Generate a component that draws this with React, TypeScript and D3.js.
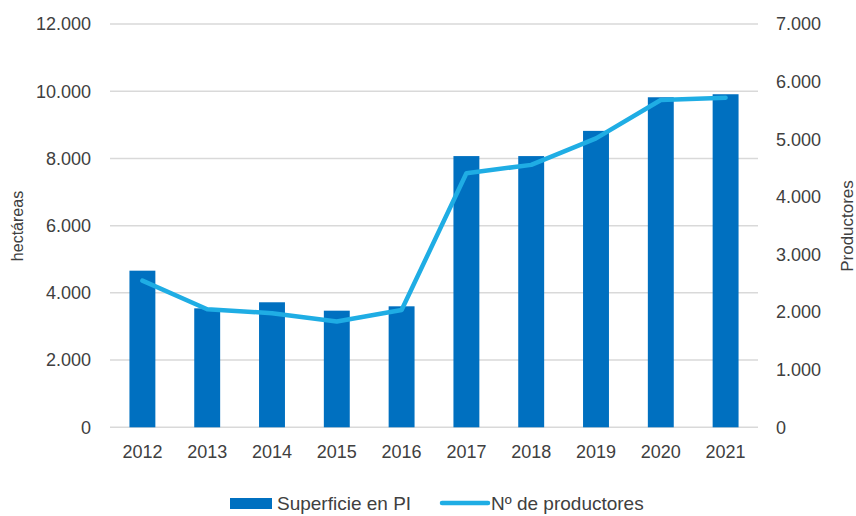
import * as d3 from "d3";

// Superficie en producción integrada (ha) y nº de productores, 2012-2021
const years = ["2012", "2013", "2014", "2015", "2016", "2017", "2018", "2019", "2020", "2021"];
const superficie = [4660, 3540, 3720, 3470, 3600, 8070, 8070, 8820, 9820, 9910];
const productores = [2545, 2050, 1980, 1835, 2035, 4410, 4555, 5015, 5680, 5720];
const leftTicks = [0, 2000, 4000, 6000, 8000, 10000, 12000];
const rightTicks = [0, 1000, 2000, 3000, 4000, 5000, 6000, 7000];

const W = 856;
const H = 516;
const plot = { left: 110, right: 758, top: 24, bottom: 427.3 };
const BAR = "#0070C0";
const LINE = "#1FADE4";
const TEXT = "#404040";
const FONT = "'Liberation Sans', Arial, sans-serif";

const esLocale = d3.formatLocale({
	decimal: ",",
	thousands: ".",
	grouping: [3],
	currency: ["", "€"],
});
const fmt = esLocale.format(",");

export default function App() {
	const x = d3
		.scaleBand<string>()
		.domain(years)
		.range([plot.left, plot.right])
		.paddingInner(0.6)
		.paddingOuter(0.3);
	const yLeft = d3.scaleLinear().domain([0, 12000]).range([plot.bottom, plot.top]);
	const yRight = d3.scaleLinear().domain([0, 7000]).range([plot.bottom, plot.top]);

	const line = d3
		.line<number>()
		.x((_, i) => (x(years[i]) as number) + x.bandwidth() / 2)
		.y((d) => yRight(d));

	return (
		<svg
			width={W}
			height={H}
			style={{ position: "absolute", left: 0, top: 0, background: "#fff" }}
			fontFamily={FONT}
		>
			{/* gridlines */}
			{leftTicks.map((t) => (
				<line
					key={"g" + t}
					x1={plot.left}
					x2={plot.right}
					y1={yLeft(t)}
					y2={yLeft(t)}
					stroke="#D9D9D9"
					strokeWidth={1.5}
				/>
			))}

			{/* bars */}
			{superficie.map((v, i) => (
				<rect
					key={"b" + years[i]}
					x={x(years[i])}
					y={yLeft(v)}
					width={x.bandwidth()}
					height={yLeft(0) - yLeft(v)}
					fill={BAR}
				/>
			))}

			{/* producers line */}
			<path
				d={line(productores) || ""}
				fill="none"
				stroke={LINE}
				strokeWidth={4.5}
				strokeLinejoin="round"
				strokeLinecap="round"
			/>

			{/* left axis labels */}
			{leftTicks.map((t) => (
				<text
					key={"l" + t}
					x={91}
					y={yLeft(t)}
					dy="0.35em"
					textAnchor="end"
					fontSize={18}
					fill={TEXT}
				>
					{fmt(t)}
				</text>
			))}

			{/* right axis labels */}
			{rightTicks.map((t) => (
				<text
					key={"r" + t}
					x={776}
					y={yRight(t)}
					dy="0.35em"
					textAnchor="start"
					fontSize={18}
					fill={TEXT}
				>
					{fmt(t)}
				</text>
			))}

			{/* x labels */}
			{years.map((yr) => (
				<text
					key={"x" + yr}
					x={(x(yr) as number) + x.bandwidth() / 2}
					y={452}
					dy="0.35em"
					textAnchor="middle"
					fontSize={18}
					fill={TEXT}
				>
					{yr}
				</text>
			))}

			{/* axis titles */}
			<text
				transform={`translate(17,226) rotate(-90)`}
				dy="0.35em"
				textAnchor="middle"
				fontSize={16}
				fill={TEXT}
			>
				hectáreas
			</text>
			<text
				transform={`translate(847,226) rotate(-90)`}
				dy="0.35em"
				textAnchor="middle"
				fontSize={17}
				fill={TEXT}
			>
				Productores
			</text>

			{/* legend */}
			<rect x={230} y={498} width={42} height={11} fill={BAR} />
			<text x={277} y={503} dy="0.35em" fontSize={19} fill={TEXT}>
				Superficie en PI
			</text>
			<line x1={442} x2={488} y1={503} y2={503} stroke={LINE} strokeWidth={4.5} strokeLinecap="round" />
			<text x={491} y={503} dy="0.35em" fontSize={19} fill={TEXT}>
				Nº de productores
			</text>
		</svg>
	);
}
